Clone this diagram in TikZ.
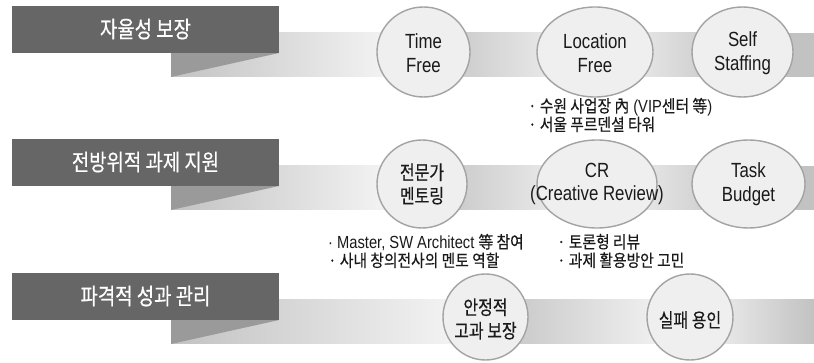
\documentclass[tikz,border=0pt]{standalone}
\usepackage{fontspec}
\setmainfont{Liberation Sans}[FakeStretch=0.82]
\newfontfamily\kr{Noto Sans CJK KR}[FakeStretch=0.82,FakeBold=0.5]
\newfontfamily\krnotefont{Noto Sans CJK KR}[FakeStretch=0.87,FakeBold=0.4]
\newfontfamily\lanotefont{Liberation Sans}[FakeStretch=0.84]
\usetikzlibrary{shapes.geometric}
\definecolor{boxgray}{HTML}{666666}
\definecolor{trigray}{HTML}{9A9A9A}
\definecolor{bandgray}{HTML}{C2C2C2}
\definecolor{bandlight}{HTML}{F6F6F6}
\definecolor{ellfill}{HTML}{EFEFEF}
\definecolor{elldraw}{HTML}{A3A3A3}
\definecolor{txt}{HTML}{1A1A1A}
\newcommand{\krn}{\krnotefont\fontsize{17}{18.5}\selectfont}
\tikzset{
  titlebox/.style={fill=boxgray, draw=none},
  titletext/.style={text=white, font=\kr\fontsize{23}{25}\selectfont, inner sep=0pt},
  foldtri/.style={fill=trigray, draw=none},
  bub/.style={ellipse, fill=ellfill, draw=elldraw, line width=1.4pt, inner sep=0pt},
  btxt/.style={align=center, text=txt, inner sep=0pt, font=\fontsize{20.5}{23.5}\selectfont},
  kbtxt/.style={align=center, text=txt, inner sep=0pt, font=\kr\fontsize{19.5}{23.5}\selectfont},
  note/.style={align=left, text=txt, inner sep=0pt, anchor=west, font=\lanotefont\fontsize{17.5}{18.5}\selectfont},
}
\begin{document}
\begin{tikzpicture}[x=1pt,y=-1pt]
\useasboundingbox (0,0) rectangle (814,363);
\fill[white] (0,0) rectangle (814,363);

% ---------- row 1 ----------
\fill[bandgray] (171,33) rectangle (814,77);
\shade[left color=bandgray, right color=bandlight] (171,33) rectangle (400,77);
\shade[left color=bandgray, right color=bandlight] (423,33) rectangle (595,77);
\shade[left color=bandlight, right color=bandgray] (595,33) rectangle (742,77);
\fill[foldtri] (171,53) -- (279,53) -- (171,77) -- cycle;
\fill[titlebox] (12,6) rectangle (279,53);
\node[titletext] (t1) at (145.5,29) {자율성 보장};

\node[bub, minimum width=93pt, minimum height=90pt] (e11) at (423.5,52) {};
\node[btxt] (l11) at ([yshift=-1pt]e11.center) {Time\\Free};
\node[bub, minimum width=116pt, minimum height=90pt] (e12) at (595,52) {};
\node[btxt] (l12) at ([yshift=-1pt]e12.center) {Location\\Free};
\node[bub, minimum width=101pt, minimum height=90pt] (e13) at (742.5,52) {};
\node[btxt] (l13) at ([yshift=-1pt]e13.center) {Self\\Staffing};

\node[note] (n1) at (528,115) {{\krn · 수원 사업장 內} (VIP{\krn 센터 等})\\{\krn · 서울 푸르덴셜 타워}};

% ---------- row 2 ----------
\fill[bandgray] (171,166) rectangle (814,210);
\shade[left color=bandgray, right color=bandlight] (171,166) rectangle (400,210);
\shade[left color=bandgray, right color=bandlight] (422,166) rectangle (597,210);
\shade[left color=bandlight, right color=bandgray] (597,166) rectangle (749,210);
\fill[foldtri] (171,186) -- (279,186) -- (171,210) -- cycle;
\fill[titlebox] (12,139) rectangle (279,186);
\node[titletext] (t2) at (145.5,162) {전방위적 과제 지원};

\node[bub, minimum width=90pt, minimum height=88pt] (e21) at (422,184) {};
\node[kbtxt] (l21) at (e21.center) {전문가\\멘토링};
\node[bub, minimum width=120pt, minimum height=88pt] (e22) at (597,184) {};
\node[btxt] (l22) at (e22.center) {CR\\(Creative Review)};
\node[bub, minimum width=113pt, minimum height=88pt] (e23) at (748.5,184) {};
\node[btxt] (l23) at (e23.center) {Task\\Budget};

\node[note] (n2) at (328,251) {· Master, SW Architect {\krn 等 참여}\\{\krn · 사내 창의전사의 멘토 역할}};
\node[note] (n3) at (557,251) {{\krn · 토론형 리뷰}\\{\krn · 과제 활용방안 고민}};

% ---------- row 3 ----------
\fill[bandgray] (171,300) rectangle (814,344);
\shade[left color=bandgray, right color=bandlight] (171,300) rectangle (470,344);
\shade[left color=bandgray, right color=bandlight] (485,300) rectangle (680,344);
\shade[left color=bandlight, right color=bandgray] (690,300) rectangle (814,344);
\fill[foldtri] (171,320) -- (279,320) -- (171,344) -- cycle;
\fill[titlebox] (12,273) rectangle (279,320);
\node[titletext] (t3) at (145.5,296) {파격적 성과 관리};

\node[bub, minimum width=85pt, minimum height=86pt] (e31) at (485.5,317) {};
\node[kbtxt] (l31) at ([yshift=-2pt]e31.center) {안정적\\고과 보장};
\node[bub, minimum width=86pt, minimum height=86pt] (e32) at (690,317) {};
\node[kbtxt] (l32) at ([yshift=-3pt]e32.center) {실패 용인};
\end{tikzpicture}
\end{document}
